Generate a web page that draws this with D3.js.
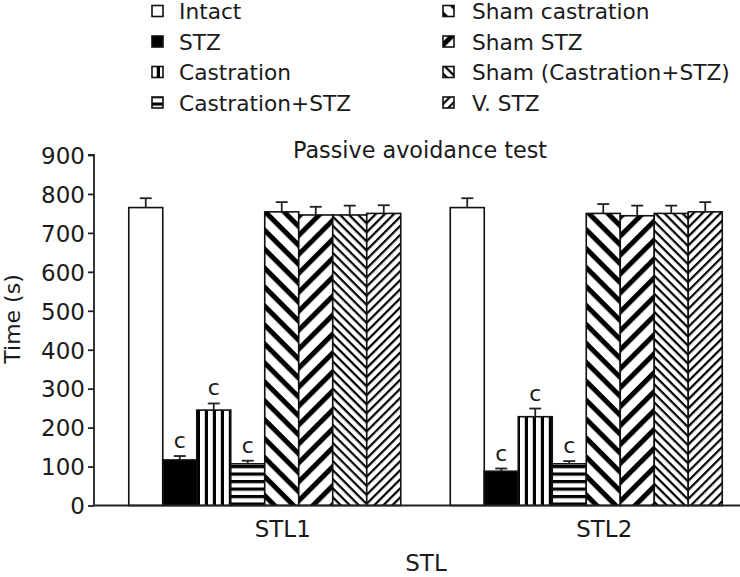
<!DOCTYPE html>
<html>
<head>
<meta charset="utf-8">
<script src="https://cdn.jsdelivr.net/npm/d3@7"></script>
<style>
  html, body { margin: 0; padding: 0; background: #fff; }
  svg { display: block; }
  text { font-family: "DejaVu Sans", sans-serif; fill: #1a1a1a; }
</style>
</head>
<body>
<svg id="chart" width="740" height="577"></svg>
<script>
// ---- data ----
const categories = ["STL1", "STL2"];
const series = ["Intact", "STZ", "Castration", "Castration+STZ",
                "Sham castration", "Sham STZ", "Sham (Castration+STZ)", "V. STZ"];
const valuesSTL1 = [765, 117, 245, 107, 754, 746, 746, 750];
const errorsSTL1 = [24, 10, 17, 8, 25, 21, 24, 21];
const valuesSTL2 = [765, 88, 228, 107, 750, 744, 750, 754];
const errorsSTL2 = [24, 7, 21, 7, 24, 26, 20, 25];
const sigSTL1 = ["", "c", "c", "c", "", "", "", ""];
const sigSTL2 = ["", "c", "c", "c", "", "", "", ""];
const yTicks = [0, 100, 200, 300, 400, 500, 600, 700, 800, 900];
const title = "Passive avoidance test";
const yLabel = "Time (s)";
const xLabel = "STL";

const rows = [];
categories.forEach((c, ci) => {
  const vals = ci === 0 ? valuesSTL1 : valuesSTL2;
  const errs = ci === 0 ? errorsSTL1 : errorsSTL2;
  const sigs = ci === 0 ? sigSTL1 : sigSTL2;
  series.forEach((s, si) => rows.push({cat: c, ser: s, si, value: vals[si], err: errs[si], sig: sigs[si]}));
});

const svg = d3.select("#chart");
const defs = svg.append("defs");

// ---- patterns ----
function stripePattern(id, angle, period, width) {
  const p = defs.append("pattern").attr("id", id)
    .attr("patternUnits", "userSpaceOnUse")
    .attr("width", period).attr("height", period)
    .attr("patternTransform", `rotate(${angle})`);
  p.append("rect").attr("width", period).attr("height", period).attr("fill", "#fff");
  p.append("rect").attr("x", 0).attr("y", 0).attr("width", period).attr("height", width).attr("fill", "#000");
}
stripePattern("p-vert", 90, 8, 3.2);
stripePattern("p-horz", 0, 7.5, 3.2);
stripePattern("p-thick-back", 45, 13.4, 5);
stripePattern("p-thick-fwd", -45, 13.4, 5);
stripePattern("p-thin-back", 45, 6.4, 2.2);
stripePattern("p-thin-fwd", -45, 6.4, 2.2);

const fills = ["#fff", "#000", "url(#p-vert)", "url(#p-horz)",
               "url(#p-thick-back)", "url(#p-thick-fwd)", "url(#p-thin-back)", "url(#p-thin-fwd)"];
const fillScale = d3.scaleOrdinal().domain(series).range(fills);

// ---- scales ----
const y = d3.scaleLinear().domain([0, 900]).range([505.5, 155]);
const x0 = d3.scaleBand().domain(categories).range([104, 747])
  .paddingInner(0.154).paddingOuter(0.077);
const x1 = d3.scaleBand().domain(series).range([0, x0.bandwidth()]);

const axisX = 94;

// ---- bars ----
const g = svg.append("g");
const bars = g.selectAll("g.bar").data(rows).join("g").attr("class", "bar");
bars.append("rect")
  .attr("x", d => x0(d.cat) + x1(d.ser))
  .attr("y", d => y(d.value))
  .attr("width", x1.bandwidth())
  .attr("height", d => y(0) - y(d.value))
  .attr("fill", d => fillScale(d.ser))
  .attr("stroke", "#111").attr("stroke-width", 1.6);

// error bars
bars.append("line")
  .attr("x1", d => x0(d.cat) + x1(d.ser) + x1.bandwidth() / 2)
  .attr("x2", d => x0(d.cat) + x1(d.ser) + x1.bandwidth() / 2)
  .attr("y1", d => y(d.value))
  .attr("y2", d => y(d.value + d.err))
  .attr("stroke", "#222").attr("stroke-width", 1.8);
bars.append("line")
  .attr("x1", d => x0(d.cat) + x1(d.ser) + x1.bandwidth() / 2 - 6)
  .attr("x2", d => x0(d.cat) + x1(d.ser) + x1.bandwidth() / 2 + 6)
  .attr("y1", d => y(d.value + d.err))
  .attr("y2", d => y(d.value + d.err))
  .attr("stroke", "#222").attr("stroke-width", 1.8);
bars.filter(d => d.sig).append("text")
  .attr("x", d => x0(d.cat) + x1(d.ser) + x1.bandwidth() / 2)
  .attr("y", d => y(d.value + d.err) - 8)
  .attr("text-anchor", "middle")
  .attr("font-size", 22)
  .text(d => d.sig);

// ---- axes ----
const yAxis = d3.axisLeft(y).tickValues(yTicks).tickSize(6).tickPadding(3);
const ya = svg.append("g").attr("transform", `translate(${axisX},0)`).call(yAxis);
ya.select(".domain").attr("stroke", "#222").attr("stroke-width", 1.8).attr("d", `M-6,${y(900)}H0V${y(0)}`);
ya.selectAll(".tick line").attr("stroke", "#222").attr("stroke-width", 1.8);
ya.selectAll(".tick text").attr("font-size", 23).attr("font-family", "DejaVu Sans").attr("fill", "#1a1a1a").attr("dy", "0.36em");

svg.append("line")
  .attr("x1", axisX).attr("x2", 740)
  .attr("y1", y(0)).attr("y2", y(0))
  .attr("stroke", "#222").attr("stroke-width", 1.8);

// category labels
svg.selectAll("text.cat").data(categories).join("text").attr("class", "cat")
  .attr("x", d => x0(d) + x0.bandwidth() / 2 + 18)
  .attr("y", 537)
  .attr("text-anchor", "middle")
  .attr("font-size", 23)
  .text(d => d);

svg.append("text").attr("x", 426).attr("y", 571)
  .attr("text-anchor", "middle").attr("font-size", 23).text(xLabel);

svg.append("text")
  .attr("transform", `translate(20,319) rotate(-90)`)
  .attr("text-anchor", "middle").attr("font-size", 22).text(yLabel);

svg.append("text").attr("x", 420).attr("y", 158)
  .attr("text-anchor", "middle").attr("font-size", 22.3).text(title);

// ---- legend ----
const legendCols = [{mx: 152, tx: 179}, {mx: 443, tx: 472}];
const legend = svg.selectAll("g.leg").data(series).join("g").attr("class", "leg")
  .attr("transform", (d, i) => {
    const col = legendCols[Math.floor(i / 4)];
    const cy = 11 + (i % 4) * 30.5;
    return `translate(${col.mx},${cy})`;
  });
legend.append("rect")
  .attr("x", 0).attr("y", -5.5).attr("width", 11).attr("height", 11)
  .attr("fill", d => fillScale(d)).attr("stroke", "#111").attr("stroke-width", 1.6);
legend.append("text")
  .attr("x", (d, i) => legendCols[Math.floor(i / 4)].tx - legendCols[Math.floor(i / 4)].mx)
  .attr("y", 8)
  .attr("font-size", 21.7)
  .text(d => d);
</script>
</body>
</html>
